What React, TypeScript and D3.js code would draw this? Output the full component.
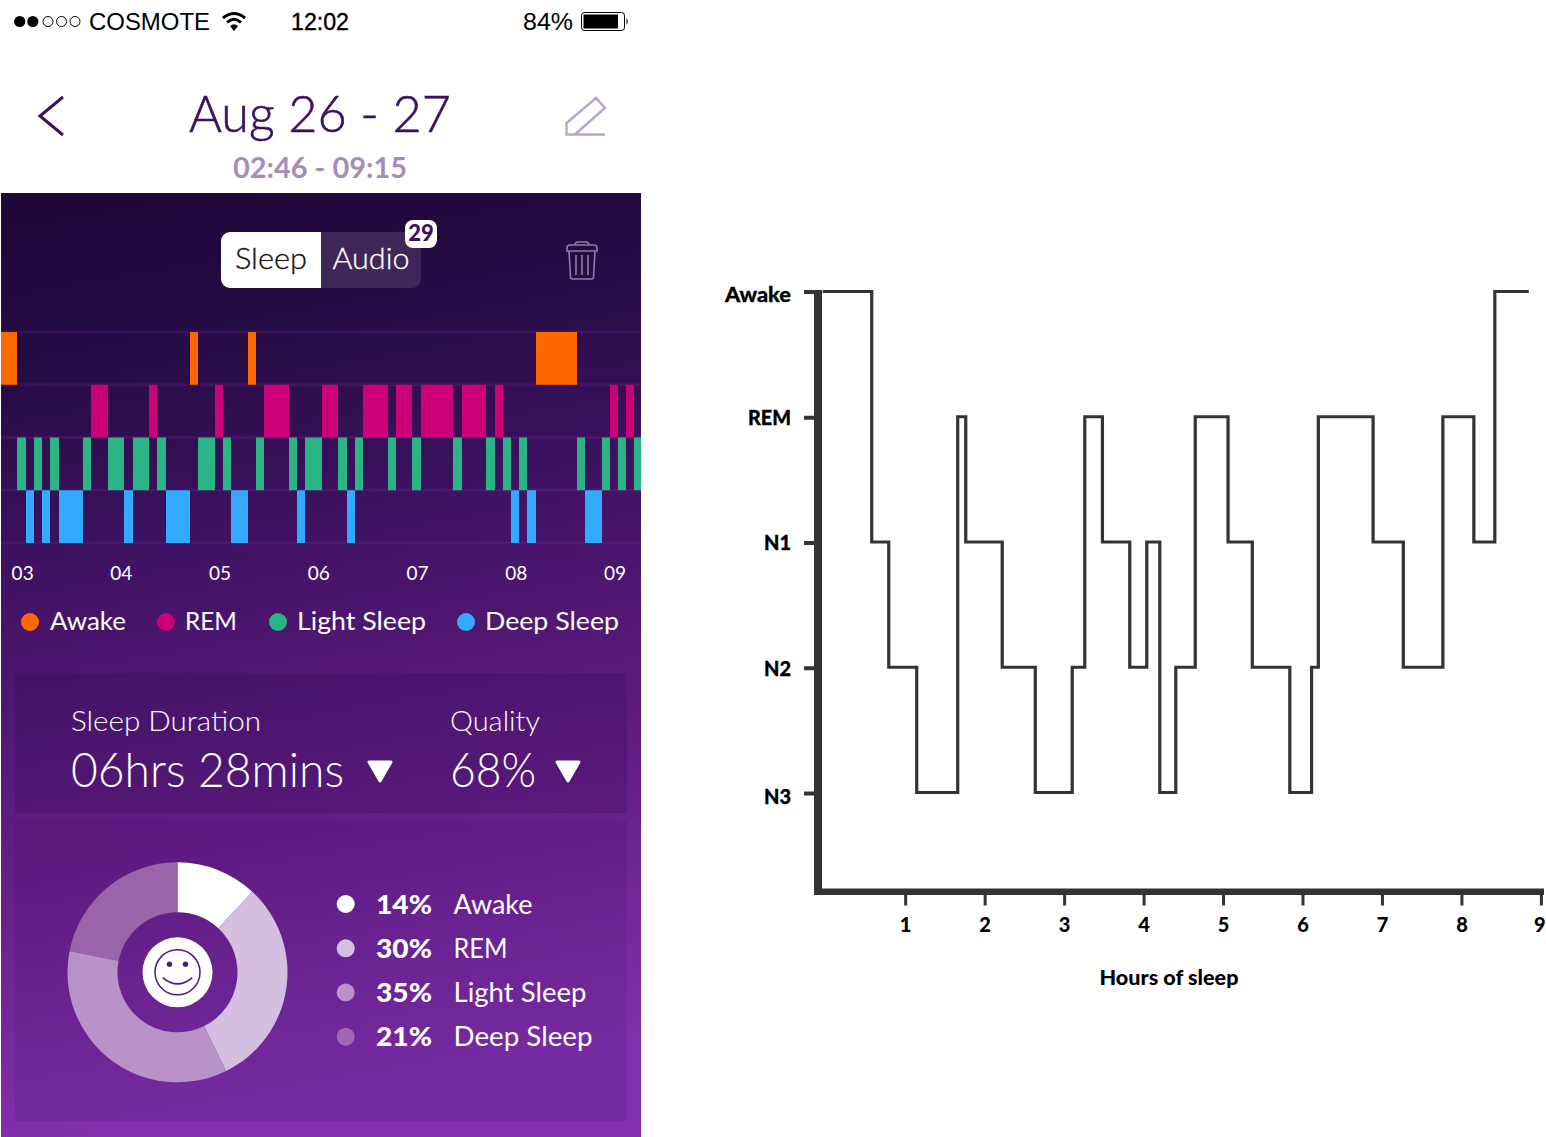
import React from "react";
import * as d3 from "d3";

// Sleep app strip chart: 5-minute epochs since 02:46
const stripStages = ["Awake", "REM", "Light Sleep", "Deep Sleep"];
const stripColors = ["#ff6600", "#cc0077", "#2bb585", "#33aaff"];
const awakeEpochs = [[0, 2], [23, 24], [30, 31], [65, 70]];
const remEpochs = [[11, 13], [18, 19], [26, 27], [32, 35], [39, 41], [44, 47], [48, 50], [51, 55], [56, 59], [60, 61], [74, 75], [76, 77]];
const lightEpochs = [[2, 3], [4, 5], [6, 7], [10, 11], [13, 15], [16, 18], [19, 20], [24, 26], [27, 28], [31, 32], [35, 36], [37, 39], [41, 42], [43, 44], [47, 48], [50, 51], [55, 56], [59, 60], [61, 62], [63, 64], [70, 71], [73, 74], [75, 76], [77, 77.8]];
const deepEpochs = [[3, 4], [5, 6], [7, 10], [15, 16], [20, 23], [28, 30], [36, 37], [42, 43], [62, 63], [64, 65], [71, 73]];
const stripSeries = [awakeEpochs, remEpochs, lightEpochs, deepEpochs];
const hourLabels = ["03", "04", "05", "06", "07", "08", "09"];
const hourEpochs = [2.8, 14.8, 26.8, 38.8, 50.8, 62.8, 74.8];

// Donut: printed percentages and the slice sizes as drawn in the picture
const donutLabels = ["Awake", "REM", "Light Sleep", "Deep Sleep"];
const donutValues = [14, 30, 35, 21];
const donutDrawn = [11.9, 30.8, 35.4, 21.9];
const donutColors = ["#ffffff", "#d4bfe1", "#b892c8", "#9a66a9"];
const donutDotColors = ["#ffffff", "#d4c0e0", "#b992c8", "#a068b4"];

// Hypnogram
const hypnoLevels = ["Awake", "REM", "N1", "N2", "N3"];
const hypnoHours = [-0.044, 0.573, 0.787, 1.139, 1.655, 1.756, 2.215, 2.631, 3.096, 3.254, 3.476, 3.82, 4.034, 4.198, 4.399, 4.644, 5.057, 5.362, 5.834, 6.108, 6.193, 6.882, 7.262, 7.76, 8.15, 8.414, 8.842];
const hypnoStages = ["Awake", "N1", "N2", "N3", "REM", "N1", "N2", "N3", "N2", "REM", "N1", "N2", "N1", "N3", "N2", "REM", "N1", "N2", "N3", "N2", "REM", "N1", "N2", "REM", "N1", "Awake", "Awake"];
const hourTicks = [1, 2, 3, 4, 5, 6, 7, 8, 9];

const avenir = "Lato, 'Open Sans', sans-serif";
const helv = "'Liberation Sans', Arial, sans-serif";
const ink = "#3a1060";
const axisInk = "#333333";

export default function App() {
  const xStrip = d3.scaleLinear().domain([0, 77.8]).range([1, 641]);
  const yStrip = d3.scaleBand().domain(stripStages).range([332, 543]);

  const xH = d3.scaleLinear().domain([0, 9]).range([826.2, 1541.4]);
  const yH = d3.scalePoint().domain(hypnoLevels).range([291.5, 792.5]);
  const hypnoPath = d3
    .line<number>()
    .x((d) => xH(d))
    .y((_, i) => yH(hypnoStages[i]) as number)
    .curve(d3.curveStepAfter)(hypnoHours) as string;

  const pieGen = d3.pie<number>().sort(null)(donutDrawn);
  const arcGen = d3.arc<any>().innerRadius(60).outerRadius(110);

  const guideYs = stripStages.map((s) => yStrip(s) as number).concat([543]);
  const rowTexts = [904, 948.3, 992.5, 1036.7];
  const levelLabelDy: Record<string, number> = { Awake: 10, REM: 8, N1: 8, N2: 9, N3: 11 };

  return (
    <svg
      width={1546}
      height={1137}
      viewBox="0 0 1546 1137"
      style={{ position: "absolute", left: 0, top: 0, display: "block", background: "#fff" }}
    >
      <defs>
        <linearGradient id="bg" x1="0" y1="0" x2="0.12" y2="1">
          <stop offset="0" stopColor="#1d0838" />
          <stop offset="0.18" stopColor="#250b43" />
          <stop offset="0.4" stopColor="#3f1262" />
          <stop offset="0.7" stopColor="#631d85" />
          <stop offset="1" stopColor="#8230ad" />
        </linearGradient>
      </defs>

      {/* Status bar */}
      {[19.7, 32.8].map((x) => <circle key={x} cx={x} cy={21.5} r={5.6} fill="#000" />)}
      {[48, 61.5, 75].map((x) => <circle key={x} cx={x} cy={21.5} r={5} fill="none" stroke="#000" strokeWidth={1} />)}
      <text x={89} y={30} fontFamily={helv} fontSize={24} textLength={121} lengthAdjust="spacingAndGlyphs">COSMOTE</text>
      <g fill="none" stroke="#000" strokeWidth={3}>
        <path d="M223,18 Q234,9 245,18" />
        <path d="M227,22.5 Q234,16 241,22.5" />
      </g>
      <path d="M230,26 Q234,22.5 238,26 L234,31 Z" fill="#000" />
      <text x={320} y={30} textAnchor="middle" fontFamily={helv} fontSize={24} stroke="#000" strokeWidth={0.4} textLength={58} lengthAdjust="spacingAndGlyphs">12:02</text>
      <text x={523} y={30} fontFamily={helv} fontSize={24} textLength={50} lengthAdjust="spacingAndGlyphs">84%</text>
      <rect x={581.5} y={12.5} width={43} height={18} rx={3} fill="none" stroke="#000" strokeWidth={1} />
      <rect x={583.5} y={14.5} width={34.5} height={14} fill="#000" />
      <path d="M626.5,18 q2.5,3.5 0,7 Z" fill="#000" />

      {/* Header */}
      <path d="M63,97 L40,116 L63,135" fill="none" stroke={ink} strokeWidth={3} />
      <text x={320} y={132} textAnchor="middle" fontFamily={avenir} fontWeight={300} fontSize={52} fill={ink} stroke={ink} strokeWidth={0.6} textLength={262} lengthAdjust="spacingAndGlyphs">Aug 26 - 27</text>
      <text x={320} y={178} textAnchor="middle" fontFamily={avenir} fontWeight={700} fontSize={28} fill="#a68cb8" textLength={174} lengthAdjust="spacingAndGlyphs">02:46 - 09:15</text>
      <path d="M605,134.5 H566.5 V123 L596,98 L605,108 L575,134.5" fill="none" stroke="#b9a6cc" strokeWidth={2.5} />

      {/* App panel */}
      <rect x={1} y={193} width={640} height={944} fill="url(#bg)" />
      <rect x={221} y={232} width={200} height={56} rx={9} fill="#ffffff" fillOpacity={0.12} />
      <path d="M321,232 H230 a9,9 0 0 0 -9,9 V279 a9,9 0 0 0 9,9 H321 Z" fill="#fff" />
      <text x={271} y={269} textAnchor="middle" fontFamily={avenir} fontWeight={300} fontSize={29} fill="#111" stroke="#111" strokeWidth={0.3} textLength={72} lengthAdjust="spacingAndGlyphs">Sleep</text>
      <text x={371} y={269} textAnchor="middle" fontFamily={avenir} fontWeight={300} fontSize={29} fill="#fff" stroke="#fff" strokeWidth={0.3} textLength={77} lengthAdjust="spacingAndGlyphs">Audio</text>
      <rect x={405} y={220} width={32} height={28} rx={8} fill="#fff" />
      <text x={421} y={241} textAnchor="middle" fontFamily={avenir} fontWeight={900} fontSize={22} fill={ink}>29</text>
      <g fill="none" stroke="#8d7fa3" strokeWidth={1.6}>
        <path d="M567,248 q0,-3 3,-3 H594 q3,0 3,3 V251 H567 Z" />
        <path d="M575,245 q0,-3 3,-3 H586 q3,0 3,3" />
        <path d="M569,251 L570.5,277 q0,2 2,2 H591.5 q2,0 2,-2 L595,251" />
        <path d="M576,255 V275 M582,255 V275 M588,255 V275" />
      </g>

      {/* Strip chart */}
      {guideYs.map((y) => (
        <rect key={y} x={1} y={y - 1.5} width={640} height={3} fill="#7a2aa8" fillOpacity={0.22} />
      ))}
      {stripSeries.map((segs, i) =>
        segs.map(([a, b]) => (
          <rect
            key={`${i}-${a}`}
            x={Math.round(xStrip(a))}
            y={yStrip(stripStages[i])}
            width={Math.round(xStrip(b)) - Math.round(xStrip(a))}
            height={yStrip.bandwidth()}
            fill={stripColors[i]}
          />
        ))
      )}
      {hourLabels.map((h, i) => (
        <text key={h} x={xStrip(hourEpochs[i]) - 1.4} y={580} textAnchor="middle" fontFamily={avenir} fontSize={19} fill="#fff">{h}</text>
      ))}
      {stripStages.map((s, i) => {
        const dotX = [30, 166, 278, 466][i];
        const textX = [50, 185, 297, 485][i];
        const w = [76, 52, 129, 134][i];
        return (
          <g key={s}>
            <circle cx={dotX} cy={622} r={9} fill={stripColors[i]} />
            <text x={textX} y={629.5} fontFamily={avenir} fontSize={25} fill="#fff" textLength={w} lengthAdjust="spacingAndGlyphs">{s}</text>
          </g>
        );
      })}

      {/* Summary panels */}
      <rect x={15} y={673} width={612} height={140} fill="#2a0a50" fillOpacity={0.25} />
      <rect x={15} y={821} width={612} height={300} fill="#2a0a50" fillOpacity={0.12} />
      <text x={71} y={731} fontFamily={avenir} fontWeight={300} fontSize={28} fill="#fff" textLength={190} lengthAdjust="spacingAndGlyphs">Sleep Duration</text>
      <text x={450} y={731} fontFamily={avenir} fontWeight={300} fontSize={28} fill="#fff" textLength={90} lengthAdjust="spacingAndGlyphs">Quality</text>
      <text x={71} y={787} fontFamily={avenir} fontWeight={300} fontSize={47} fill="#fff" textLength={273} lengthAdjust="spacingAndGlyphs">06hrs 28mins</text>
      <text x={450} y={787} fontFamily={avenir} fontWeight={300} fontSize={47} fill="#fff" textLength={86} lengthAdjust="spacingAndGlyphs">68%</text>
      {[367, 555].map((x) => (
        <path key={x} d={`M${x + 2},${762} H${x + 24} L${x + 13},${781} Z`} fill="#fff" stroke="#fff" strokeWidth={3} strokeLinejoin="round" />
      ))}

      {/* Donut */}
      <g transform="translate(177.5,972.3)">
        {pieGen.map((d, i) => (
          <path key={i} d={arcGen(d) as string} fill={donutColors[i]} />
        ))}
        <circle r={35} fill="#fff" />
        <circle r={22.5} fill="none" stroke="#4a1a80" strokeWidth={1.5} />
        <circle cx={-8} cy={-8} r={2.7} fill="#4a1a80" />
        <circle cx={8} cy={-8} r={2.7} fill="#4a1a80" />
        <path d="M-14.7,5.3 Q0,18 14.7,5.3" fill="none" stroke="#4a1a80" strokeWidth={1.6} />
      </g>
      {donutLabels.map((l, i) => (
        <g key={l}>
          <circle cx={345.7} cy={rowTexts[i]} r={9} fill={donutDotColors[i]} />
          <text x={376} y={rowTexts[i] + 9.7} fontFamily={avenir} fontWeight={900} fontSize={26} fill="#fff" textLength={56} lengthAdjust="spacingAndGlyphs">{donutValues[i]}%</text>
          <text x={453.5} y={rowTexts[i] + 9.7} fontFamily={avenir} fontSize={26} fill="#fff" textLength={[79, 54, 133, 139][i]} lengthAdjust="spacingAndGlyphs">{l}</text>
        </g>
      ))}

      {/* Hypnogram */}
      <path d={hypnoPath} fill="none" stroke={axisInk} strokeWidth={3.2} strokeLinejoin="miter" />
      <rect x={814} y={290} width={8} height={605} fill={axisInk} />
      <rect x={814} y={888.5} width={730} height={6.5} fill={axisInk} />
      {hypnoLevels.map((l) => {
        const y = yH(l) as number;
        const tickY = y + (l === "Awake" ? 0.5 : 1);
        return (
          <g key={l}>
            <rect x={804} y={tickY - 2} width={10} height={4} fill={axisInk} />
            <text x={791} y={y + levelLabelDy[l]} textAnchor="end" fontFamily={avenir} fontWeight={900} fontSize={20} fill="#000" stroke="#000" strokeWidth={0.3} textLength={l === "Awake" ? 66 : l === "REM" ? 43 : 27} lengthAdjust="spacingAndGlyphs">{l}</text>
          </g>
        );
      })}
      {hourTicks.map((t) => (
        <g key={t}>
          <rect x={xH(t) - 1.5} y={895} width={3} height={10.5} fill={axisInk} />
          <text x={xH(t) - (t === 9 ? 1.5 : 0)} y={932} textAnchor="middle" fontFamily={avenir} fontWeight={900} fontSize={20} fill="#000">{t}</text>
        </g>
      ))}
      <text x={1169} y={985} textAnchor="middle" fontFamily={avenir} fontWeight={900} fontSize={20} fill="#000" textLength={139} lengthAdjust="spacingAndGlyphs">Hours of sleep</text>
    </svg>
  );
}
